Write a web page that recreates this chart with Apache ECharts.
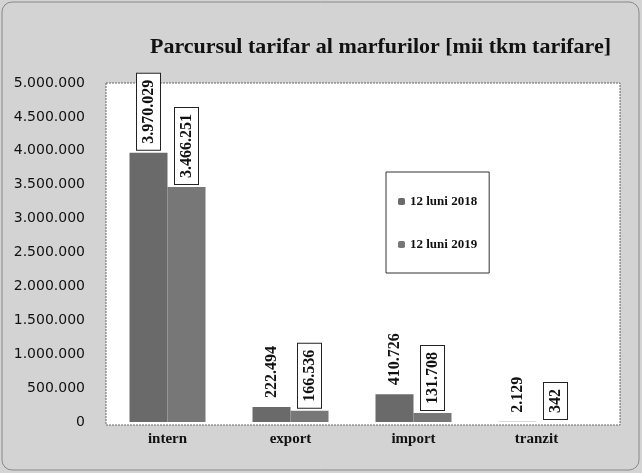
<!DOCTYPE html>
<html><head><meta charset="utf-8">
<script src="https://cdn.jsdelivr.net/npm/echarts@6/dist/echarts.min.js"></script>
<style>html,body{margin:0;padding:0;background:#fff}#c{width:642px;height:473px}</style>
</head><body><div id="c"></div>
<script>
const categories = ['intern', 'export', 'import', 'tranzit'];
const series2018 = [3970029, 222494, 410726, 2129];
const series2019 = [3466251, 166536, 131708, 342];
const seriesNames = ['12 luni 2018', '12 luni 2019'];
const yTicks = [0, 500000, 1000000, 1500000, 2000000, 2500000, 3000000, 3500000, 4000000, 4500000, 5000000];

function fmt(v) { return String(v).replace(/\B(?=(\d{3})+(?!\d))/g, '.'); }

const chart = echarts.init(document.getElementById('c'));
const serif = '"Liberation Serif","DejaVu Serif",serif';
const boxed = {
  show: true, position: 'top', rotate: 90, align: 'left', verticalAlign: 'middle', distance: 3,
  fontFamily: serif, fontWeight: 'bold', fontSize: 16, color: '#111',
  backgroundColor: '#fff', borderColor: '#222', borderWidth: 1, padding: [4, 6, 3, 6],
  formatter: p => fmt(p.value)
};
const plain = Object.assign({}, boxed, { backgroundColor: 'transparent', borderWidth: 0 });

chart.setOption({
  backgroundColor: '#d3d3d3',
  animation: false,
  title: {
    text: 'Parcursul tarifar al marfurilor [mii tkm tarifare]',
    left: 145, top: 31,
    textStyle: { fontFamily: serif, fontWeight: 'bold', fontSize: 22, color: '#111' }
  },
  graphic: [
    { type: 'rect', shape: { x: 2, y: 2, width: 637, height: 468, r: 10 }, style: { fill: 'none', stroke: '#888', lineWidth: 1 }, z: -1 },
    { type: 'rect', shape: { x: 106, y: 83, width: 514, height: 342 }, style: { fill: '#fff', stroke: '#666', lineWidth: 1, lineDash: [2, 1] }, z: -1 }
  ],
  legend: {
    orient: 'vertical', left: 386, top: 172, width: 122,
    padding: [23, 12, 22, 12], itemGap: 30, itemWidth: 7, itemHeight: 7,
    borderColor: '#333', borderWidth: 1, backgroundColor: '#fff',
    textStyle: { fontFamily: serif, fontWeight: 'bold', fontSize: 13, color: '#111' },
    data: seriesNames
  },
  grid: { left: 106, right: 44, top: 83, bottom: 51 },
  xAxis: {
    type: 'category', data: categories,
    axisLine: { show: false }, axisTick: { show: false },
    axisLabel: { fontFamily: serif, fontWeight: 'bold', fontSize: 15, color: '#111', margin: 10 }
  },
  yAxis: {
    type: 'value', min: 0, max: 5000000, interval: 500000,
    splitLine: { show: false }, axisLine: { show: false }, axisTick: { show: false },
    axisLabel: { fontFamily: '"DejaVu Sans",sans-serif', fontSize: 14, color: '#111', margin: 21, formatter: v => fmt(v) }
  },
  series: [
    { name: seriesNames[0], type: 'bar', data: series2018.map((v, i) => ({ value: v, label: i === 0 ? boxed : plain })),
      barWidth: 38, barGap: '0%', itemStyle: { color: '#6a6a6a' } },
    { name: seriesNames[1], type: 'bar', data: series2019, label: boxed,
      barWidth: 38, itemStyle: { color: '#777777' } }
  ]
});
</script></body></html>
